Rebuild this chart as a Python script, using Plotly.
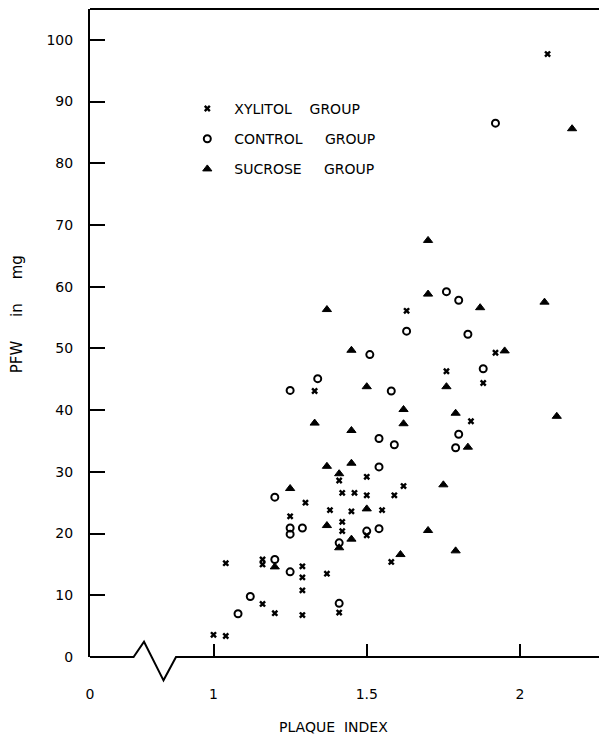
import plotly.graph_objects as go

# ---------------- data ----------------
xylitol_pi = [2.09, 1.63, 1.92, 1.76, 1.88, 1.84, 1.33, 1.62, 1.59, 1.55, 1.58, 1.41,
              1.50, 1.42, 1.46, 1.50, 1.30, 1.25, 1.38, 1.45, 1.42, 1.42, 1.50, 1.04,
              1.16, 1.16, 1.29, 1.29, 1.37, 1.29, 1.16, 1.20, 1.29, 1.41, 1.00, 1.04]
xylitol_pfw = [97.7, 56.1, 49.3, 46.3, 44.4, 38.2, 43.1, 27.7, 26.2, 23.8, 15.4, 28.6,
               29.2, 26.6, 26.6, 26.2, 25.0, 22.8, 23.8, 23.6, 21.9, 20.4, 19.7, 15.2,
               15.8, 15.0, 14.7, 12.9, 13.5, 10.8, 8.6, 7.1, 6.8, 7.2, 3.6, 3.4]

control_pi = [1.92, 1.76, 1.80, 1.63, 1.83, 1.51, 1.88, 1.34, 1.25, 1.58, 1.80, 1.79,
              1.54, 1.59, 1.54, 1.20, 1.25, 1.25, 1.29, 1.50, 1.54, 1.41, 1.20, 1.25,
              1.12, 1.08, 1.41]
control_pfw = [86.5, 59.2, 57.8, 52.8, 52.3, 49.0, 46.7, 45.1, 43.2, 43.1, 36.1, 33.9,
               35.4, 34.4, 30.8, 25.9, 20.9, 19.9, 20.9, 20.4, 20.8, 18.5, 15.8, 13.8,
               9.8, 7.0, 8.7]

sucrose_pi = [2.17, 1.70, 1.70, 1.87, 2.08, 1.37, 1.95, 1.45, 1.76, 1.50, 1.62, 1.62,
              1.79, 2.12, 1.83, 1.33, 1.45, 1.37, 1.45, 1.41, 1.75, 1.25, 1.50, 1.37,
              1.45, 1.41, 1.70, 1.79, 1.61, 1.20]
sucrose_pfw = [85.6, 67.5, 58.8, 56.6, 57.5, 56.3, 49.6, 49.7, 43.8, 43.8, 40.1, 37.8,
               39.5, 39.0, 34.0, 37.9, 36.7, 30.9, 31.4, 29.7, 27.9, 27.3, 24.0, 21.3,
               19.1, 17.7, 20.5, 17.2, 16.6, 14.6]

group_names = ["XYLITOL\u00a0\u00a0\u00a0\u00a0GROUP",
               "CONTROL\u00a0\u00a0\u00a0\u00a0\u00a0GROUP",
               "SUCROSE\u00a0\u00a0\u00a0\u00a0\u00a0GROUP"]

x_tick_text = ["0", "1", "1.5", "2"]
x_tick_vals = [0.597, 1, 1.5, 2]          # "0" sits at the axis break
y_tick_vals = [0, 10, 20, 30, 40, 50, 60, 70, 80, 90, 100]
y_tick_text = [str(v) for v in y_tick_vals]

x_title = "PLAQUE\u00a0\u00a0INDEX"
y_title = "PFW\u00a0\u00a0\u00a0\u00a0\u00a0in\u00a0\u00a0\u00a0\u00a0\u00a0mg"

# ---------------- figure ----------------
FONT = "DejaVu Sans"
fig = go.Figure()

fig.add_trace(go.Scatter(
    x=xylitol_pi, y=xylitol_pfw, mode="markers", name=group_names[0],
    legendgroup="a",
    marker=dict(symbol="x", size=6, color="black", line=dict(width=0)),
    cliponaxis=False))
fig.add_trace(go.Scatter(
    x=control_pi, y=control_pfw, mode="markers", name=group_names[1],
    legendgroup="b",
    marker=dict(symbol="circle-open", size=7, color="black", line=dict(width=2, color="black")),
    cliponaxis=False))
fig.add_trace(go.Scatter(
    x=sucrose_pi, y=sucrose_pfw, mode="markers", name=group_names[2],
    legendgroup="c",
    marker=dict(symbol="triangle-up", size=8, color="black", line=dict(width=1, color="black")),
    cliponaxis=False))

# frame: top line and broken bottom axis with zig-zag (paper coordinates)
fig.add_shape(type="line", xref="paper", yref="paper", x0=0, x1=1, y0=1, y1=1,
              line=dict(color="black", width=2))
fig.add_shape(type="path", xref="paper", yref="paper",
              path="M 0,0 L 0.083,0 L 0.1029,0.0235 L 0.140,-0.036 L 0.1638,0 L 1,0",
              line=dict(color="black", width=2))

fig.add_annotation(text=x_title, xref="paper", yref="paper", x=0.463, y=-0.108,
                   showarrow=False, font=dict(family=FONT, size=14, color="black"),
                   xanchor="center", yanchor="middle")
fig.add_annotation(text=y_title, xref="paper", yref="paper", x=-0.139, y=0.529,
                   showarrow=False, textangle=-90,
                   font=dict(family=FONT, size=15, color="black"),
                   xanchor="center", yanchor="middle")

# the page body adds an 8px offset; margins compensate so the plot sits where the reference has it
fig.update_layout(
    width=607, height=736,
    margin=dict(l=82, r=0, t=1, b=87),
    paper_bgcolor="white", plot_bgcolor="white",
    font=dict(family=FONT, size=14, color="black"),
    showlegend=True,
    legend=dict(x=0.172, y=0.8705, xanchor="left", yanchor="top",
                bgcolor="rgba(0,0,0,0)", borderwidth=0,
                tracegroupgap=9, itemwidth=44,
                font=dict(family=FONT, size=14, color="black")),
    xaxis=dict(range=[0.597, 2.31], showgrid=False, zeroline=False, showline=False,
               tickmode="array", tickvals=x_tick_vals, ticktext=x_tick_text,
               ticks="inside", ticklen=13, tickwidth=2, tickcolor="black",
               ticklabelstandoff=27,
               tickfont=dict(family=FONT, size=14, color="black")),
    yaxis=dict(range=[0, 105], showgrid=False, zeroline=False,
               showline=True, linewidth=2, linecolor="black", mirror=False,
               tickmode="array", tickvals=y_tick_vals, ticktext=y_tick_text,
               ticks="inside", ticklen=15, tickwidth=2, tickcolor="black",
               ticklabelstandoff=12,
               tickfont=dict(family=FONT, size=14, color="black")),
)

fig.write_html("out.html")
